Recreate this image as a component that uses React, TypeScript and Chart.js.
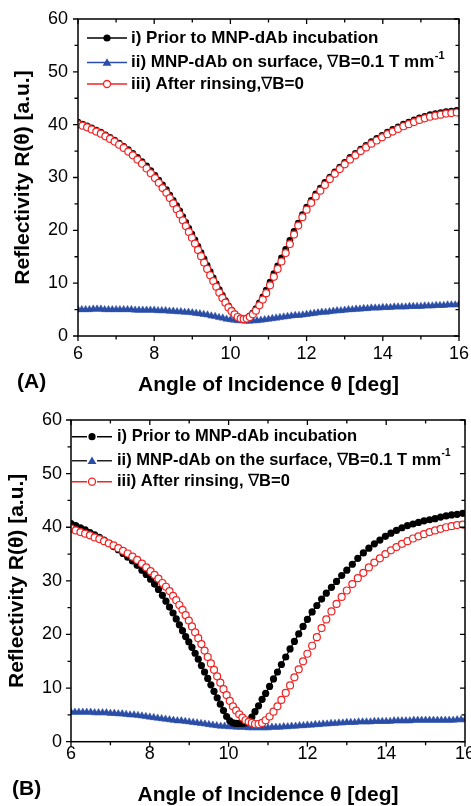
import React, { useEffect, useRef } from "react";
import { Chart, registerables } from "chart.js";

Chart.register(...registerables);

// ---------------- data ----------------
const ANGLES = [
  6.00, 6.12, 6.24, 6.36, 6.48, 6.60, 6.72, 6.84, 6.96, 7.08,
  7.20, 7.32, 7.44, 7.56, 7.68, 7.80, 7.91, 8.02, 8.12, 8.22,
  8.32, 8.41, 8.50, 8.59, 8.67, 8.75, 8.83, 8.91, 8.99, 9.07,
  9.15, 9.23, 9.31, 9.39, 9.47, 9.55, 9.63, 9.71, 9.79, 9.87,
  9.95, 10.03, 10.11, 10.19, 10.27, 10.35, 10.43, 10.51, 10.59, 10.67,
  10.76, 10.85, 10.94, 11.04, 11.14, 11.24, 11.34, 11.45, 11.56, 11.67,
  11.78, 11.89, 12.00, 12.12, 12.24, 12.36, 12.48, 12.61, 12.74, 12.87,
  13.00, 13.14, 13.28, 13.42, 13.56, 13.70, 13.84, 13.98, 14.12, 14.26,
  14.40, 14.54, 14.68, 14.82, 14.96, 15.10, 15.24, 15.38, 15.52, 15.66,
  15.80, 15.94,
];

const ANGLES_BLUE = [
  6.0, 6.1, 6.2, 6.3, 6.4, 6.5, 6.6, 6.7, 6.8, 6.9,
  7.0, 7.1, 7.2, 7.3, 7.4, 7.5, 7.6, 7.7, 7.8, 7.9,
  8.0, 8.1, 8.2, 8.3, 8.4, 8.5, 8.6, 8.7, 8.8, 8.9,
  9.0, 9.1, 9.2, 9.3, 9.4, 9.5, 9.6, 9.7, 9.8, 9.9,
  10.0, 10.1, 10.2, 10.3, 10.4, 10.5, 10.6, 10.7, 10.8, 10.9,
  11.0, 11.1, 11.2, 11.3, 11.4, 11.5, 11.6, 11.7, 11.8, 11.9,
  12.0, 12.1, 12.2, 12.3, 12.4, 12.5, 12.6, 12.7, 12.8, 12.9,
  13.0, 13.1, 13.2, 13.3, 13.4, 13.5, 13.6, 13.7, 13.8, 13.9,
  14.0, 14.1, 14.2, 14.3, 14.4, 14.5, 14.6, 14.7, 14.8, 14.9,
  15.0, 15.1, 15.2, 15.3, 15.4, 15.5, 15.6, 15.7, 15.8, 15.9,
  16.0,
];

// Panel A
const A_PRIOR = [
  40.5, 40.1, 39.8, 39.4, 39.0, 38.6, 38.1, 37.6, 37.1, 36.5,
  35.9, 35.3, 34.6, 33.8, 33.0, 32.2, 31.3, 30.4, 29.5, 28.6,
  27.7, 26.7, 25.7, 24.7, 23.7, 22.6, 21.5, 20.4, 19.3, 18.2,
  17.0, 15.8, 14.6, 13.4, 12.2, 11.0, 9.9, 8.8, 7.7, 6.7,
  5.7, 4.9, 4.2, 3.7, 3.3, 3.2, 3.4, 3.8, 4.4, 5.2,
  6.3, 7.4, 8.7, 10.2, 11.8, 13.3, 14.8, 16.4, 18.1, 19.8,
  21.4, 23.0, 24.4, 25.7, 26.9, 28.0, 29.1, 30.1, 31.1, 32.0,
  32.9, 33.8, 34.6, 35.4, 36.1, 36.8, 37.4, 38.0, 38.6, 39.1,
  39.6, 40.1, 40.5, 40.9, 41.3, 41.6, 41.9, 42.1, 42.3, 42.5,
  42.6, 42.7,
];
const A_SURFACE = [
  5.0, 5.0, 5.0, 5.0, 5.1, 5.1, 5.1, 5.0, 5.0, 5.0,
  5.0, 5.0, 5.0, 5.0, 5.0, 4.9, 4.9, 4.9, 4.9, 4.9,
  4.9, 4.8, 4.8, 4.8, 4.7, 4.7, 4.6, 4.6, 4.5, 4.5,
  4.4, 4.3, 4.2, 4.1, 4.0, 3.8, 3.7, 3.5, 3.4, 3.2,
  3.1, 3.0, 2.9, 2.9, 2.8, 2.8, 2.9, 2.9, 3.0, 3.1,
  3.2, 3.3, 3.4, 3.5, 3.6, 3.7, 3.8, 3.9, 3.9, 4.0,
  4.1, 4.2, 4.3, 4.4, 4.5, 4.5, 4.6, 4.7, 4.8, 4.8,
  4.9, 5.0, 5.0, 5.1, 5.1, 5.2, 5.2, 5.3, 5.3, 5.3,
  5.4, 5.4, 5.4, 5.5, 5.5, 5.5, 5.5, 5.6, 5.6, 5.6,
  5.6, 5.7, 5.7, 5.7, 5.8, 5.8, 5.8, 5.9, 5.9, 5.9,
  6.0,
];
const A_RINSED = [
  40.1, 39.8, 39.5, 39.1, 38.7, 38.3, 37.8, 37.3, 36.8, 36.2,
  35.6, 34.9, 34.2, 33.4, 32.6, 31.7, 30.8, 29.9, 29.0, 28.0,
  27.1, 26.1, 25.1, 24.0, 23.0, 21.9, 20.8, 19.7, 18.6, 17.5,
  16.3, 15.1, 13.9, 12.7, 11.5, 10.4, 9.3, 8.2, 7.2, 6.3,
  5.4, 4.7, 4.1, 3.6, 3.3, 3.2, 3.3, 3.6, 4.1, 4.8,
  5.8, 6.9, 8.1, 9.6, 11.2, 12.7, 14.1, 15.7, 17.4, 19.2,
  20.9, 22.5, 23.9, 25.2, 26.4, 27.5, 28.6, 29.7, 30.7, 31.6,
  32.5, 33.4, 34.2, 35.0, 35.7, 36.4, 37.0, 37.6, 38.2, 38.7,
  39.2, 39.7, 40.1, 40.5, 40.9, 41.2, 41.5, 41.7, 41.9, 42.1,
  42.2, 42.3,
];

// Panel B
const B_PRIOR = [
  40.7, 40.3, 39.9, 39.5, 39.0, 38.6, 38.1, 37.6, 37.0, 36.4,
  35.8, 35.1, 34.4, 33.7, 32.9, 32.0, 31.2, 30.3, 29.4, 28.4,
  27.3, 26.2, 25.1, 24.0, 22.9, 21.8, 20.7, 19.6, 18.6, 17.6,
  16.5, 15.4, 14.2, 13.0, 11.8, 10.6, 9.4, 8.2, 7.0, 5.8,
  4.7, 3.9, 3.5, 3.4, 3.4, 3.4, 3.5, 3.9, 4.6, 5.6,
  6.7, 7.9, 9.0, 10.3, 11.7, 13.0, 14.4, 15.8, 17.3, 18.7,
  20.1, 21.5, 22.8, 24.2, 25.4, 26.6, 27.7, 28.8, 29.9, 31.0,
  32.0, 33.1, 34.2, 35.2, 36.1, 36.9, 37.6, 38.3, 38.9, 39.4,
  39.9, 40.3, 40.6, 40.9, 41.2, 41.4, 41.6, 41.9, 42.1, 42.3,
  42.4, 42.6,
];
const B_SURFACE = [
  5.5, 5.5, 5.5, 5.5, 5.5, 5.5, 5.4, 5.4, 5.4, 5.4,
  5.3, 5.3, 5.2, 5.2, 5.1, 5.0, 5.0, 4.9, 4.8, 4.7,
  4.6, 4.5, 4.4, 4.3, 4.2, 4.1, 4.0, 3.9, 3.9, 3.8,
  3.7, 3.6, 3.5, 3.4, 3.3, 3.2, 3.1, 3.0, 2.9, 2.9,
  2.8, 2.8, 2.7, 2.7, 2.7, 2.6, 2.6, 2.6, 2.6, 2.6,
  2.6, 2.7, 2.7, 2.7, 2.8, 2.8, 2.9, 2.9, 3.0, 3.0,
  3.1, 3.1, 3.2, 3.2, 3.3, 3.3, 3.4, 3.4, 3.5, 3.5,
  3.6, 3.6, 3.6, 3.7, 3.7, 3.7, 3.7, 3.8, 3.8, 3.8,
  3.8, 3.8, 3.9, 3.9, 3.9, 3.9, 3.9, 4.0, 4.0, 4.0,
  4.0, 4.0, 4.0, 4.0, 4.0, 4.0, 4.0, 4.0, 4.1, 4.1,
  4.1,
];
const B_RINSED = [
  39.8, 39.4, 39.1, 38.8, 38.5, 38.1, 37.8, 37.4, 37.0, 36.6,
  36.1, 35.6, 35.1, 34.5, 33.9, 33.2, 32.5, 31.8, 31.1, 30.4,
  29.6, 28.9, 28.1, 27.2, 26.4, 25.5, 24.6, 23.6, 22.6, 21.5,
  20.4, 19.3, 18.2, 17.0, 15.8, 14.6, 13.4, 12.2, 11.0, 9.8,
  8.7, 7.6, 6.6, 5.8, 5.1, 4.5, 4.0, 3.7, 3.5, 3.3,
  3.3, 3.5, 4.0, 4.7, 5.6, 6.6, 7.8, 9.1, 10.5, 12.0,
  13.5, 15.0, 16.4, 17.9, 19.5, 21.2, 22.8, 24.3, 25.7, 27.0,
  28.2, 29.4, 30.5, 31.5, 32.5, 33.4, 34.2, 35.0, 35.7, 36.3,
  36.9, 37.4, 37.9, 38.3, 38.7, 39.1, 39.4, 39.7, 40.0, 40.2,
  40.4, 40.5,
];

const X_MAJOR = [6, 8, 10, 12, 14, 16];
const X_MINOR = [7, 9, 11, 13, 15];
const Y_MAJOR = [0, 10, 20, 30, 40, 50, 60];
const Y_MINOR = [5, 15, 25, 35, 45, 55];

const X_TITLE = "Angle of Incidence \u03B8 [deg]";
const Y_TITLE = "Reflectivity R(\u03B8) [a.u.]";

const LEGEND_A_TEXT = [
  [{ t: "i) Prior to MNP-dAb incubation" }],
  [{ t: "ii) MNP-dAb on surface, " }, { t: "\u2207", n: true }, { t: "B=0.1 T mm" }, { t: "-1", sup: true }],
  [{ t: "iii) After rinsing," }, { t: "\u2207", n: true }, { t: "B=0" }],
];
const LEGEND_B_TEXT = [
  [{ t: "i) Prior to MNP-dAb incubation" }],
  [{ t: "ii) MNP-dAb on the surface, " }, { t: "\u2207", n: true }, { t: "B=0.1 T mm" }, { t: "-1", sup: true }],
  [{ t: "iii) After rinsing, " }, { t: "\u2207", n: true }, { t: "B=0" }],
];

// ---------------- styling ----------------
const FONT = "'Liberation Sans', Arial, Helvetica, sans-serif";
const BLACK = "#000000";
const BLUE = "#2a4da6";
const RED = "#f02424";

const PANEL_A = {
  label: "(A)", labelX: 17, labelY: 382,
  padTop: 19, padRight: 12, yWidth: 78, xHeight: 67,
  xTickPad: 7, yTickPad: 10, xTitlePad: 7.5, yTitlePad: 12.5,
  blackRadius: 3.3,
  legend: {
    x0: 87, x1: 127, mx: 107, tx: 131, gap: 0, font: 17,
    rows: [38, 62.5, 84], lineColors: [BLACK, BLUE, RED], text: LEGEND_A_TEXT,
  },
  prior: A_PRIOR, surface: A_SURFACE, rinsed: A_RINSED,
};
const PANEL_B = {
  label: "(B)", labelX: 12, labelY: 386,
  padTop: 17, padRight: 6, yWidth: 71, xHeight: 64.3,
  xTickPad: 2, yTickPad: 9, xTitlePad: 0, yTitlePad: 6.5,
  blackRadius: 3.6,
  legend: {
    x0: 72, x1: 112, mx: 92, tx: 117, gap: 5, font: 16.5,
    rows: [33.7, 57.7, 78.7], lineColors: [BLACK, "#222222", RED], text: LEGEND_B_TEXT,
  },
  prior: B_PRIOR, surface: B_SURFACE, rinsed: B_RINSED,
};

function drawMarker(ctx: CanvasRenderingContext2D, kind: string, x: number, y: number) {
  ctx.save();
  if (kind === "dot") {
    ctx.fillStyle = BLACK;
    ctx.beginPath();
    ctx.arc(x, y, 3.6, 0, Math.PI * 2);
    ctx.fill();
  } else if (kind === "tri") {
    ctx.fillStyle = BLUE;
    ctx.beginPath();
    ctx.moveTo(x, y - 4.2);
    ctx.lineTo(x + 4.4, y + 3.2);
    ctx.lineTo(x - 4.4, y + 3.2);
    ctx.closePath();
    ctx.fill();
  } else {
    ctx.fillStyle = "#fff";
    ctx.strokeStyle = RED;
    ctx.lineWidth = 1.3;
    ctx.beginPath();
    ctx.arc(x, y, 3.5, 0, Math.PI * 2);
    ctx.fill();
    ctx.stroke();
  }
  ctx.restore();
}

const decorPlugin = {
  id: "decor",
  afterDraw(chart: any, _args: any, opts: any) {
    const { ctx, chartArea: ca } = chart;
    const xs = chart.scales.x;
    const ys = chart.scales.y;
    const MAJ = 5;
    const MIN = 3.5;
    ctx.save();
    ctx.strokeStyle = "#000";
    ctx.lineWidth = 1.5;
    ctx.strokeRect(ca.left, ca.top, ca.right - ca.left, ca.bottom - ca.top);
    ctx.lineWidth = 1.3;
    ctx.beginPath();
    const xt = (v: number, len: number) => {
      const p = xs.getPixelForValue(v);
      ctx.moveTo(p, ca.bottom);
      ctx.lineTo(p, ca.bottom + len);
      ctx.moveTo(p, ca.top);
      ctx.lineTo(p, ca.top + len);
    };
    const yt = (v: number, len: number) => {
      const p = ys.getPixelForValue(v);
      ctx.moveTo(ca.left - len, p);
      ctx.lineTo(ca.left, p);
      ctx.moveTo(ca.right - len, p);
      ctx.lineTo(ca.right, p);
    };
    X_MAJOR.forEach((v) => xt(v, MAJ));
    X_MINOR.forEach((v) => xt(v, MIN));
    Y_MAJOR.forEach((v) => yt(v, MAJ));
    Y_MINOR.forEach((v) => yt(v, MIN));
    ctx.stroke();

    // legend
    const lg = opts.legend;
    const kinds = ["dot", "tri", "ring"];
    lg.rows.forEach((ry: number, i: number) => {
      ctx.strokeStyle = lg.lineColors[i];
      ctx.lineWidth = 1.6;
      ctx.beginPath();
      if (lg.gap > 0) {
        ctx.moveTo(lg.x0, ry);
        ctx.lineTo(lg.mx - lg.gap, ry);
        ctx.moveTo(lg.mx + lg.gap, ry);
        ctx.lineTo(lg.x1, ry);
      } else {
        ctx.moveTo(lg.x0, ry);
        ctx.lineTo(lg.x1, ry);
      }
      ctx.stroke();
      drawMarker(ctx, kinds[i], lg.mx, ry);
      let x = lg.tx;
      ctx.fillStyle = "#000";
      ctx.textBaseline = "middle";
      ctx.textAlign = "left";
      lg.text[i].forEach((s: any) => {
        if (s.sup) {
          ctx.font = `bold ${Math.round(lg.font * 0.62)}px ${FONT}`;
          ctx.fillText(s.t, x + 0.5, ry - 7);
          x += ctx.measureText(s.t).width;
        } else {
          ctx.font = `${s.n ? "normal" : "bold"} ${lg.font}px ${FONT}`;
          ctx.fillText(s.t, x, ry);
          x += ctx.measureText(s.t).width;
        }
      });
    });

    // panel label
    ctx.fillStyle = "#000";
    ctx.font = `bold 21px ${FONT}`;
    ctx.textAlign = "left";
    ctx.textBaseline = "middle";
    ctx.fillText(opts.label, opts.labelX, opts.labelY);
    ctx.restore();
  },
};

function Panel({ cfg, top }: { cfg: any; top: number }) {
  const ref = useRef<HTMLCanvasElement | null>(null);
  useEffect(() => {
    if (!ref.current) return;
    const pts = (xsArr: number[], ysArr: number[]) => xsArr.map((x, i) => ({ x, y: ysArr[i] }));
    const chart = new Chart(ref.current, {
      type: "line",
      data: {
        datasets: [
          {
            label: "i) Prior to MNP-dAb incubation",
            data: pts(ANGLES, cfg.prior),
            borderColor: BLACK,
            borderWidth: 1.3,
            pointStyle: "circle",
            pointRadius: cfg.blackRadius,
            pointBackgroundColor: BLACK,
            pointBorderColor: BLACK,
            pointBorderWidth: 0,
            order: 2,
          },
          {
            label: "ii) MNP-dAb on surface",
            data: pts(ANGLES_BLUE, cfg.surface),
            borderColor: BLUE,
            borderWidth: 2,
            pointStyle: "triangle",
            pointRadius: 4.2,
            pointBackgroundColor: BLUE,
            pointBorderColor: BLUE,
            pointBorderWidth: 0.5,
            order: 3,
          },
          {
            label: "iii) After rinsing",
            data: pts(ANGLES, cfg.rinsed),
            borderColor: RED,
            borderWidth: 1,
            pointStyle: "circle",
            pointRadius: 3.5,
            pointBackgroundColor: "#ffffff",
            pointBorderColor: RED,
            pointBorderWidth: 1.2,
            order: 1,
          },
        ],
      },
      options: {
        animation: false,
        responsive: false,
        devicePixelRatio: 1,
        events: [],
        layout: { padding: { top: cfg.padTop, right: cfg.padRight, bottom: 0, left: 0 } },
        elements: { line: { tension: 0 } },
        plugins: {
          legend: { display: false },
          tooltip: { enabled: false },
          decor: { legend: cfg.legend, label: cfg.label, labelX: cfg.labelX, labelY: cfg.labelY },
        } as any,
        scales: {
          x: {
            type: "linear",
            min: 6,
            max: 16,
            afterBuildTicks: (s: any) => {
              s.ticks = X_MAJOR.map((v) => ({ value: v }));
            },
            afterFit: (s: any) => {
              s.height = cfg.xHeight;
              s.paddingLeft = 0;
              s.paddingRight = 0;
            },
            grid: { display: false, drawTicks: false },
            border: { display: false },
            ticks: {
              color: "#000",
              padding: cfg.xTickPad,
              maxRotation: 0,
              autoSkip: false,
              font: { family: FONT, size: 18 },
            },
            title: {
              display: true,
              text: X_TITLE,
              color: "#000",
              font: { family: FONT, size: 21, weight: "bold", lineHeight: 1 },
              padding: { top: 0, bottom: cfg.xTitlePad },
            },
          },
          y: {
            type: "linear",
            min: 0,
            max: 60,
            afterBuildTicks: (s: any) => {
              s.ticks = Y_MAJOR.map((v) => ({ value: v }));
            },
            afterFit: (s: any) => {
              s.width = cfg.yWidth;
              s.paddingTop = 0;
              s.paddingBottom = 0;
            },
            grid: { display: false, drawTicks: false },
            border: { display: false },
            ticks: {
              color: "#000",
              padding: cfg.yTickPad,
              autoSkip: false,
              font: { family: FONT, size: 18 },
            },
            title: {
              display: true,
              text: Y_TITLE,
              color: "#000",
              font: { family: FONT, size: 21, weight: "bold", lineHeight: 1 },
              padding: { top: cfg.yTitlePad, bottom: 0 },
            },
          },
        } as any,
      },
      plugins: [decorPlugin as any],
    });
    return () => chart.destroy();
  }, [cfg]);
  return (
    <canvas
      ref={ref}
      width={471}
      height={403}
      style={{ position: "absolute", left: 0, top, width: 471, height: 403, display: "block" }}
    />
  );
}

export default function App() {
  return (
    <div style={{ position: "absolute", left: 0, top: 0, width: 471, height: 806, background: "#fff", overflow: "hidden" }}>
      <Panel cfg={PANEL_A} top={0} />
      <Panel cfg={PANEL_B} top={403} />
    </div>
  );
}
